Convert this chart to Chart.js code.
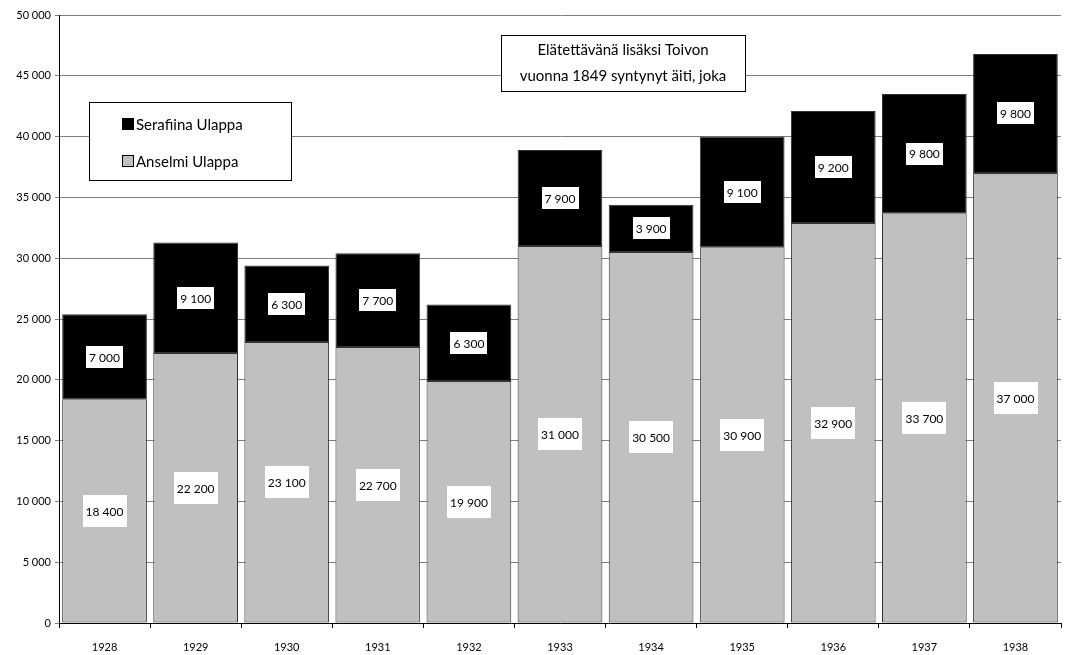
<!DOCTYPE html>
<html>
<head>
<meta charset="utf-8">
<script src="https://cdn.jsdelivr.net/npm/chart.js@4.4.1/dist/chart.umd.min.js"></script>
<style>
  html, body { margin: 0; padding: 0; background: #fff; }
  #wrap { width: 1069px; height: 655px; }
</style>
</head>
<body>
<div id="wrap"><canvas id="myChart"></canvas></div>
<script>
const years = ['1928', '1929', '1930', '1931', '1932', '1933', '1934', '1935', '1936', '1937', '1938'];
const anselmi = [18400, 22200, 23100, 22700, 19900, 31000, 30500, 30900, 32900, 33700, 37000];
const serafiina = [7000, 9100, 6300, 7700, 6300, 7900, 3900, 9100, 9200, 9800, 9800];
const seriesNames = ['Anselmi Ulappa', 'Serafiina Ulappa'];
const noteLines = ['Elätettävänä lisäksi Toivon', 'vuonna 1849 syntynyt äiti, joka'];

const FONT = 'Lato, "DejaVu Sans", sans-serif';

function fmt(v) {
    return String(v).replace(/\B(?=(\d{3})+(?!\d))/g, ' ');
}

// white boxes with the values, the note box and the legend box
const boxesPlugin = {
    id: 'boxes',
    afterDatasetsDraw(chart) {
        const ctx = chart.ctx;
        ctx.save();
        ctx.font = '12px ' + FONT;
        ctx.textAlign = 'center';
        ctx.textBaseline = 'middle';
        chart.data.datasets.forEach(function (ds, di) {
            const meta = chart.getDatasetMeta(di);
            meta.data.forEach(function (bar, i) {
                const txt = fmt(ds.data[i]);
                const w = ctx.measureText(txt).width + 6;
                const h = di === 0 ? 32 : 22;
                const cy = (bar.y + bar.base) / 2;
                ctx.fillStyle = '#ffffff';
                ctx.fillRect(Math.round(bar.x - w / 2), Math.round(cy - h / 2), Math.round(w), h);
                ctx.fillStyle = '#000000';
                ctx.fillText(txt, bar.x, cy + 1);
            });
        });

        const ca = chart.chartArea;
        // note box
        ctx.font = '15px ' + FONT;
        const nx = ca.left + 442, ny = ca.top + 20, nw = 244, nh = 56;
        ctx.fillStyle = '#ffffff';
        ctx.fillRect(nx, ny, nw, nh);
        ctx.strokeStyle = '#000000';
        ctx.lineWidth = 1;
        ctx.strokeRect(nx + 0.5, ny + 0.5, nw, nh);
        ctx.fillStyle = '#000000';
        ctx.fillText(noteLines[0], nx + nw / 2, ny + 15);
        ctx.fillText(noteLines[1], nx + nw / 2, ny + 41);

        // legend box
        const lx = ca.left + 30, ly = ca.top + 87, lw = 202, lh = 78;
        ctx.fillStyle = '#ffffff';
        ctx.fillRect(lx, ly, lw, lh);
        ctx.strokeRect(lx + 0.5, ly + 0.5, lw, lh);
        ctx.textAlign = 'left';
        ctx.font = '15px ' + FONT;
        const items = [
            { name: seriesNames[1], color: '#000000', y: ly + 22 },
            { name: seriesNames[0], color: '#c0c0c0', y: ly + 59 }
        ];
        items.forEach(function (it) {
            ctx.fillStyle = it.color;
            ctx.fillRect(lx + 33, it.y - 6, 12, 12);
            ctx.strokeStyle = '#000000';
            ctx.strokeRect(lx + 33.5, it.y - 5.5, 11, 11);
            ctx.fillStyle = '#000000';
            ctx.fillText(it.name, lx + 47, it.y + 1);
        });
        ctx.restore();
    }
};

const ctx = document.getElementById('myChart');
new Chart(ctx, {
    type: 'bar',
    data: {
        labels: years,
        datasets: [{
            label: seriesNames[0],
            data: anselmi,
            backgroundColor: '#c0c0c0',
            borderColor: '#333333',
            borderWidth: 1,
            borderSkipped: false,
            barPercentage: 0.93,
            categoryPercentage: 1
        }, {
            label: seriesNames[1],
            data: serafiina,
            backgroundColor: '#000000',
            borderColor: '#333333',
            borderWidth: 1,
            borderSkipped: false,
            barPercentage: 0.93,
            categoryPercentage: 1
        }]
    },
    options: {
        responsive: true,
        maintainAspectRatio: false,
        animation: false,
        layout: { padding: { left: 0, right: 8, top: 15, bottom: 0 } },
        plugins: {
            legend: { display: false },
            tooltip: { enabled: false }
        },
        scales: {
            x: {
                stacked: true,
                grid: { offset: true, drawOnChartArea: false, tickLength: 5, color: '#000000' },
                border: { color: '#000000', width: 1 },
                afterFit: function (scale) { scale.height = 32; },
                ticks: { color: '#000000', font: { family: FONT, size: 11 }, padding: 13 }
            },
            y: {
                stacked: true,
                min: 0,
                max: 50000,
                grid: { color: '#7f7f7f', tickLength: 4 },
                border: { color: '#000000', width: 1 },
                afterFit: function (scale) { scale.width = 59; },
                ticks: {
                    stepSize: 5000,
                    color: '#000000',
                    font: { family: FONT, size: 11 },
                    padding: 4,
                    callback: function (v) { return fmt(v); }
                }
            }
        }
    },
    plugins: [boxesPlugin]
});
</script>
</body>
</html>
